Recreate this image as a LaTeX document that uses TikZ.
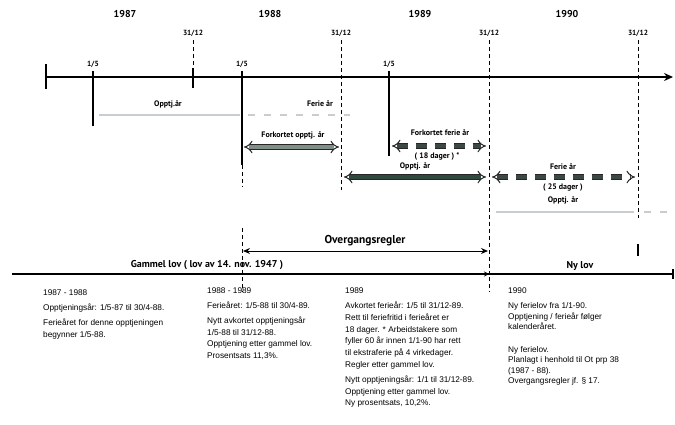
\documentclass[tikz,border=0pt]{standalone}
\usepackage{fontspec}
\setmainfont{Liberation Sans}
\newfontfamily\labfont{PT Sans}
\usetikzlibrary{arrows.meta}
\definecolor{fatlight}{HTML}{7F8E86}
\definecolor{fatdark}{HTML}{2F4A3C}
\definecolor{fatdash}{HTML}{3C4843}
\definecolor{faint}{HTML}{C8CDD2}
\begin{document}
\begin{tikzpicture}[x=1bp,y=-1bp,
  year/.style={font=\labfont\bfseries\fontsize{10}{12}\selectfont, inner sep=0pt},
  datelab/.style={font=\labfont\bfseries\fontsize{7.5}{9}\selectfont, inner sep=0pt},
  arrlab/.style={font=\labfont\bfseries\fontsize{8}{9.5}\selectfont, inner sep=0pt},
  lawlab/.style={font=\labfont\bfseries\fontsize{10}{12}\selectfont, inner sep=0pt},
  bigLab/.style={font=\labfont\bfseries\fontsize{11.5}{13}\selectfont, inner sep=0pt},
  body/.style={font=\fontsize{8.3}{11.8}\selectfont, align=left, anchor=north west, inner sep=0pt},
  vdash/.style={line width=1pt, dash pattern=on 4pt off 3pt},
  vsolid/.style={line width=1.2pt},
  fat/.style={line width=1pt, draw=black!85, double distance=3.4pt, {Implies[length=6pt]}-{Implies[length=6pt]}},
  fatdashed/.style={fat, double=fatdash, dash pattern=on 11pt off 8pt},
  faintline/.style={draw=faint, line width=1.6pt},
  faintdash/.style={draw=faint, line width=1.3pt, dash pattern=on 7pt off 9pt}
]
\useasboundingbox (0,0) rectangle (675,424);

% ---- main time axis ----
\coordinate (ax0) at (46,77);
\coordinate (ax1) at (673,77);
\draw[line width=2.2pt, -{Stealth[length=9pt,width=8pt]}] (ax0) -- (ax1);
\coordinate (t0a) at (46,64); \coordinate (t0b) at (46,89);
\draw[vsolid] (t0a) -- (t0b);

% ---- years ----
\node[year] (y87) at (125,14) {1987};
\node[year] (y88) at (270,14) {1988};
\node[year] (y89) at (420,14) {1989};
\node[year] (y90) at (567,14) {1990};

% ---- 31/12 labels and lines ----
\node[datelab] (d87) at (193,33) {31/12};
\node[datelab] (d88) at (341,33) {31/12};
\node[datelab] (d89) at (489,33) {31/12};
\node[datelab] (d90) at (638,33) {31/12};

\coordinate (d87m) at (193,68); \coordinate (d87e) at (193,88);
\draw[vdash] ([yshift=-4]d87.south) -- (d87m);
\draw[vsolid] (d87m) -- (d87e);

\coordinate (d88e) at (341,190);
\draw[vdash] ([yshift=-4]d88.south) -- (d88e);

\coordinate (d89e) at (489,292);
\draw[vdash] ([yshift=-4]d89.south) -- (d89e);

\coordinate (d90e) at (638,218);
\draw[vdash] ([yshift=-4]d90.south) -- (d90e);
\coordinate (d90s) at (638,244); \coordinate (d90t) at (638,256);
\draw[line width=1.1pt] (d90s) -- (d90t);

% ---- 1/5 labels and lines ----
\node[datelab] (m87) at (93,64) {1/5};
\node[datelab] (m88) at (242,64) {1/5};
\node[datelab] (m89) at (389,64) {1/5};

\coordinate (m87s) at (93,71); \coordinate (m87e) at (93,126);
\draw[vsolid] (m87s) -- (m87e);

\coordinate (m88s) at (242,71); \coordinate (m88m) at (242,165); \coordinate (m88e) at (242,186);
\draw[vsolid] (m88s) -- (m88m);
\draw[vdash] (m88m) -- (m88e);
\coordinate (m88b) at (242,228); \coordinate (m88c) at (242,292);
\draw[vdash] (m88b) -- (m88c);

\coordinate (m89s) at (389,71); \coordinate (m89e) at (389,156);
\draw[vsolid] (m89s) -- (m89e);

% ---- faint (grey) periods ----
\node[arrlab] (opp87) at (168,104) {Opptj.år};
\coordinate (g1a) at (99,115); \coordinate (g1b) at (240,115);
\draw[faintline] (g1a) -- (g1b);
\node[arrlab] (fer88) at (320,104) {Ferie år};
\coordinate (g2a) at (248,115); \coordinate (g2b) at (350,115);
\draw[faintdash] (g2a) -- (g2b);

\node[arrlab] (opp90) at (563,200) {Opptj. år};
\coordinate (g3a) at (496,212); \coordinate (g3b) at (634,212);
\draw[faintline] (g3a) -- (g3b);
\coordinate (g4a) at (644,212); \coordinate (g4b) at (672,212);
\draw[faintdash] (g4a) -- (g4b);

% ---- fat arrows ----
\node[arrlab] (fko) at (293,135) {Forkortet opptj. år};
\coordinate (f1a) at (244,147); \coordinate (f1b) at (339,147);
\draw[fat, double=fatlight] (f1a) -- (f1b);

\node[arrlab] (fkf) at (440,133) {Forkortet ferie år};
\coordinate (f2a) at (392,146); \coordinate (f2b) at (486,146);
\draw[fatdashed] (f2a) -- (f2b);
\node[arrlab] (d18) at (437,156) {( 18 dager ) *};

\node[arrlab] (opp89) at (415,166) {Opptj. år};
\coordinate (f3a) at (344,177); \coordinate (f3b) at (486,177);
\draw[fat, double=fatdark] (f3a) -- (f3b);

\node[arrlab] (fer90) at (563,167) {Ferie år};
\coordinate (f4a) at (492,177); \coordinate (f4b) at (635,177);
\draw[fatdashed] (f4a) -- (f4b);
\node[arrlab] (d25) at (563,188) {( 25 dager )};

% ---- Overgangsregler ----
\node[bigLab] (ovg) at (365,241) {Overgangsregler};
\coordinate (o1) at (243,251); \coordinate (o2) at (488,251);
\draw[line width=1pt, {Stealth[length=7pt,width=6pt]}-{Stealth[length=7pt,width=6pt]}] (o1) -- (o2);

% ---- law line ----
\coordinate (b0) at (12,274); \coordinate (b1) at (673,274);
\draw[line width=1.4pt] (b0) -- (b1);
\coordinate (bt1) at (673,269); \coordinate (bt2) at (673,279);
\draw[line width=1.2pt] (bt1) -- (bt2);
\coordinate (bm0) at (478,274); \coordinate (bm1) at (489,274);
\draw[line width=1pt, -{Stealth[length=5pt,width=5pt]}] (bm0) -- (bm1);
\node[lawlab] (gl) at (207,265) {Gammel lov ( lov av 14. nov. 1947 )};
\node[lawlab] (nl) at (580,266) {Ny lov};

% ---- text columns ----
\node[body] (c1) at (43,290) {1987 - 1988\\[3pt]
Opptjeningsår: 1/5-87 til 30/4-88.\\[3pt]
Ferieåret for denne opptjeningen\\
begynner 1/5-88.};

\node[body] (c2) at (207,288) {1988 - 1989\\[3pt]
Ferieåret: 1/5-88 til 30/4-89.\\[3pt]
Nytt avkortet opptjeningsår\\
1/5-88 til 31/12-88.\\
Opptjening etter gammel lov.\\
Prosentsats 11,3\%.};

\node[body] (c3) at (345,288) {1989\\[3pt]
Avkortet ferieår: 1/5 til 31/12-89.\\
Rett til feriefritid i ferieåret er\\
18 dager. * Arbeidstakere som\\
fyller 60 år innen 1/1-90 har rett\\
til ekstraferie på 4 virkedager.\\
Regler etter gammel lov.\\[3pt]
Nytt opptjeningsår: 1/1 til 31/12-89.\\
Opptjening etter gammel lov.\\
Ny prosentsats, 10,2\%.};

\node[body, font=\fontsize{8.3}{10.6}\selectfont] (c4) at (508,288) {1990\\[4pt]
Ny ferielov fra 1/1-90.\\
Opptjening / ferieår følger\\
kalenderåret.\\[12pt]
Ny ferielov.\\
Planlagt i henhold til Ot prp 38\\
(1987 - 88).\\
Overgangsregler jf. § 17.};
\end{tikzpicture}
\end{document}
